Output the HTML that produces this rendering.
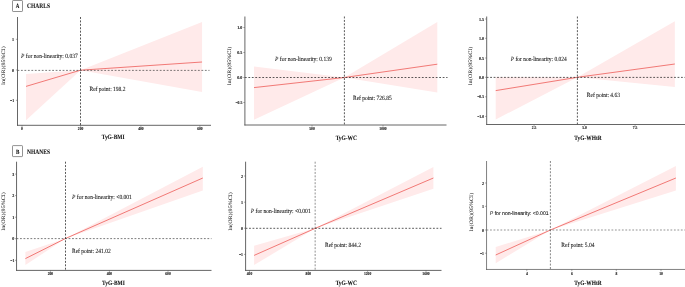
<!DOCTYPE html>
<html><head><meta charset="utf-8"><title>RCS plots</title>
<style>
html,body{margin:0;padding:0;background:#fff;}
body{width:685px;height:287px;overflow:hidden;font-family:"Liberation Serif",serif;}
svg{display:block;will-change:transform;opacity:0.999;}
text{font-family:"Liberation Serif",serif;fill:#111;text-rendering:geometricPrecision;}
.tk{font-weight:bold;fill:#111;stroke:#111;stroke-width:0.1px;}
.at{font-weight:bold;stroke:#111;stroke-width:0.08px;}
.an{fill:#111;stroke:#111;stroke-width:0.07px;}
.yl{fill:#111;stroke:#111;stroke-width:0.04px;}
.hd{font-weight:bold;stroke:#111;stroke-width:0.08px;}
</style></head><body>
<svg width="685" height="287" viewBox="0 0 685 287">
<rect x="0" y="0" width="685" height="287" fill="#ffffff"/>

<rect x="12.5" y="0.5" width="10" height="11" rx="0.6" fill="#fff" stroke="#777" stroke-width="0.8"/>
<text class="hd" transform="translate(17.60,8.35) scale(0.800,1)" font-size="6.3" text-anchor="middle">A</text>
<text class="hd" transform="translate(27.10,8.40) scale(0.800,1)" font-size="6.9" text-anchor="start">CHARLS</text>
<rect x="12.5" y="145.6" width="10" height="11" rx="0.6" fill="#fff" stroke="#777" stroke-width="0.8"/>
<text class="hd" transform="translate(17.60,153.75) scale(0.800,1)" font-size="6.3" text-anchor="middle">B</text>
<text class="hd" transform="translate(27.10,153.50) scale(0.800,1)" font-size="6.9" text-anchor="start">NHANES</text>
<g>
<polygon points="26.00,74.00 80.50,70.20 202.05,22.00 202.05,92.00 80.50,70.20 26.00,120.20" fill="#ffeaea"/>
<polyline points="26.00,86.40 80.50,70.20 202.05,62.00" fill="none" stroke="#ee6461" stroke-width="0.85"/>
<line x1="17.5" y1="70.4" x2="209.5" y2="70.4" stroke="#333" stroke-width="0.65" stroke-dasharray="1.8 1.67"/>
<line x1="80.5" y1="17" x2="80.5" y2="125.3" stroke="#222" stroke-width="0.75" stroke-dasharray="1.95 1.47"/>
<line x1="17.5" y1="17" x2="17.5" y2="125.75" stroke="#555555" stroke-width="0.9"/>
<line x1="17.05" y1="125.3" x2="211" y2="125.3" stroke="#555555" stroke-width="0.9"/>
<line x1="15.9" y1="39.3" x2="17.5" y2="39.3" stroke="#555555" stroke-width="0.5"/>
<text class="tk" transform="translate(14.10,40.95) scale(0.900,1)" font-size="4.5" text-anchor="end">1</text>
<line x1="15.9" y1="70" x2="17.5" y2="70" stroke="#555555" stroke-width="0.5"/>
<text class="tk" transform="translate(14.10,71.65) scale(0.900,1)" font-size="4.5" text-anchor="end">0</text>
<line x1="15.9" y1="100.3" x2="17.5" y2="100.3" stroke="#555555" stroke-width="0.5"/>
<text class="tk" transform="translate(14.10,101.95) scale(0.840,1)" font-size="4.5" text-anchor="end">−1</text>
<line x1="22" y1="125.3" x2="22" y2="127.0" stroke="#555555" stroke-width="0.45"/>
<text class="tk" transform="translate(22.00,130.30) scale(0.820,1)" font-size="4.5" text-anchor="middle">0</text>
<line x1="80.6" y1="125.3" x2="80.6" y2="127.0" stroke="#555555" stroke-width="0.45"/>
<text class="tk" transform="translate(80.60,130.30) scale(0.820,1)" font-size="4.5" text-anchor="middle">200</text>
<line x1="140.9" y1="125.3" x2="140.9" y2="127.0" stroke="#555555" stroke-width="0.45"/>
<text class="tk" transform="translate(140.90,130.30) scale(0.820,1)" font-size="4.5" text-anchor="middle">400</text>
<line x1="199.9" y1="125.3" x2="199.9" y2="127.0" stroke="#555555" stroke-width="0.45"/>
<text class="tk" transform="translate(199.90,130.30) scale(0.820,1)" font-size="4.5" text-anchor="middle">600</text>
<text class="an" transform="translate(21.00,57.50) scale(0.875,1)" font-size="6.35" text-anchor="start"><tspan font-style="italic" stroke="none">P</tspan> for non-linearity: 0.037</text>
<text class="an" transform="translate(89.50,91.10) scale(0.868,1)" font-size="6.35" text-anchor="start">Ref point: 198.2</text>
<text class="at" transform="translate(113.10,139.40) scale(0.825,1)" font-size="6.6" text-anchor="middle">TyG-BMI</text>
<text class="yl" transform="translate(5.3,65.5) scale(0.86,1) rotate(-90)" font-size="6.05" text-anchor="middle">ln(OR)(95%CI)</text>
</g>
<g>
<polygon points="254.00,66.50 344.40,77.50 437.30,22.00 437.30,92.50 344.40,77.50 254.00,119.80" fill="#ffeaea"/>
<polyline points="254.00,87.60 344.40,77.50 437.30,64.20" fill="none" stroke="#ee6461" stroke-width="0.85"/>
<line x1="244.9" y1="77.5" x2="447.5" y2="77.5" stroke="#222" stroke-width="0.75" stroke-dasharray="1.8 1.67"/>
<line x1="344.4" y1="16.5" x2="344.4" y2="125.0" stroke="#222" stroke-width="0.75" stroke-dasharray="1.95 1.47"/>
<line x1="244.9" y1="16.5" x2="244.9" y2="125.45" stroke="#555555" stroke-width="0.9"/>
<line x1="244.45000000000002" y1="125.0" x2="446.5" y2="125.0" stroke="#555555" stroke-width="0.9"/>
<line x1="243.3" y1="27.5" x2="244.9" y2="27.5" stroke="#555555" stroke-width="0.5"/>
<text class="tk" transform="translate(242.30,29.15) scale(0.900,1)" font-size="4.5" text-anchor="end">1.0</text>
<line x1="243.3" y1="52.5" x2="244.9" y2="52.5" stroke="#555555" stroke-width="0.5"/>
<text class="tk" transform="translate(242.30,54.15) scale(0.900,1)" font-size="4.5" text-anchor="end">0.5</text>
<line x1="243.3" y1="77.5" x2="244.9" y2="77.5" stroke="#555555" stroke-width="0.5"/>
<text class="tk" transform="translate(242.30,79.15) scale(0.900,1)" font-size="4.5" text-anchor="end">0.0</text>
<line x1="243.3" y1="102.5" x2="244.9" y2="102.5" stroke="#555555" stroke-width="0.5"/>
<text class="tk" transform="translate(242.30,104.15) scale(0.840,1)" font-size="4.5" text-anchor="end">−0.5</text>
<line x1="312" y1="125.0" x2="312" y2="126.7" stroke="#555555" stroke-width="0.45"/>
<text class="tk" transform="translate(312.00,129.85) scale(0.820,1)" font-size="4.5" text-anchor="middle">500</text>
<line x1="383" y1="125.0" x2="383" y2="126.7" stroke="#555555" stroke-width="0.45"/>
<text class="tk" transform="translate(383.00,129.85) scale(0.820,1)" font-size="4.5" text-anchor="middle">1000</text>
<text class="an" transform="translate(275.00,60.60) scale(0.875,1)" font-size="6.35" text-anchor="start"><tspan font-style="italic" stroke="none">P</tspan> for non-linearity: 0.139</text>
<text class="an" transform="translate(353.00,99.70) scale(0.868,1)" font-size="6.35" text-anchor="start">Ref point: 726.85</text>
<text class="at" transform="translate(346.30,139.80) scale(0.825,1)" font-size="6.6" text-anchor="middle">TyG-WC</text>
<text class="yl" transform="translate(230.9,65.8) scale(0.86,1) rotate(-90)" font-size="6.05" text-anchor="middle">ln(OR)(95%CI)</text>
</g>
<g>
<polygon points="495.70,77.00 577.40,77.30 674.85,21.30 674.85,87.00 577.40,77.30 495.70,119.50" fill="#ffeaea"/>
<polyline points="495.70,90.60 577.40,77.30 674.85,64.00" fill="none" stroke="#ee6461" stroke-width="0.85"/>
<line x1="486.7" y1="77.4" x2="685" y2="77.4" stroke="#222" stroke-width="0.75" stroke-dasharray="1.8 1.67"/>
<line x1="577.4" y1="16.5" x2="577.4" y2="124.5" stroke="#222" stroke-width="0.75" stroke-dasharray="1.95 1.47"/>
<line x1="486.7" y1="16.5" x2="486.7" y2="124.95" stroke="#555555" stroke-width="0.9"/>
<line x1="486.25" y1="124.5" x2="685" y2="124.5" stroke="#555555" stroke-width="0.9"/>
<line x1="485.09999999999997" y1="19" x2="486.7" y2="19" stroke="#555555" stroke-width="0.5"/>
<text class="tk" transform="translate(484.10,20.65) scale(0.900,1)" font-size="4.5" text-anchor="end">1.5</text>
<line x1="485.09999999999997" y1="38.3" x2="486.7" y2="38.3" stroke="#555555" stroke-width="0.5"/>
<text class="tk" transform="translate(484.10,39.95) scale(0.900,1)" font-size="4.5" text-anchor="end">1.0</text>
<line x1="485.09999999999997" y1="58" x2="486.7" y2="58" stroke="#555555" stroke-width="0.5"/>
<text class="tk" transform="translate(484.10,59.65) scale(0.900,1)" font-size="4.5" text-anchor="end">0.5</text>
<line x1="485.09999999999997" y1="77.3" x2="486.7" y2="77.3" stroke="#555555" stroke-width="0.5"/>
<text class="tk" transform="translate(484.10,78.95) scale(0.900,1)" font-size="4.5" text-anchor="end">0.0</text>
<line x1="485.09999999999997" y1="96.8" x2="486.7" y2="96.8" stroke="#555555" stroke-width="0.5"/>
<text class="tk" transform="translate(484.10,98.45) scale(0.840,1)" font-size="4.5" text-anchor="end">−0.5</text>
<line x1="485.09999999999997" y1="116.4" x2="486.7" y2="116.4" stroke="#555555" stroke-width="0.5"/>
<text class="tk" transform="translate(484.10,118.05) scale(0.840,1)" font-size="4.5" text-anchor="end">−1.0</text>
<line x1="534.1" y1="124.5" x2="534.1" y2="126.2" stroke="#555555" stroke-width="0.45"/>
<text class="tk" transform="translate(534.10,129.40) scale(0.820,1)" font-size="4.5" text-anchor="middle">2.5</text>
<line x1="584.6" y1="124.5" x2="584.6" y2="126.2" stroke="#555555" stroke-width="0.45"/>
<text class="tk" transform="translate(584.60,129.40) scale(0.820,1)" font-size="4.5" text-anchor="middle">5.0</text>
<line x1="635.1" y1="124.5" x2="635.1" y2="126.2" stroke="#555555" stroke-width="0.45"/>
<text class="tk" transform="translate(635.10,129.40) scale(0.820,1)" font-size="4.5" text-anchor="middle">7.5</text>
<text class="an" transform="translate(510.80,60.60) scale(0.863,1)" font-size="6.35" text-anchor="start"><tspan font-style="italic" stroke="none">P</tspan> for non-linearity: 0.024</text>
<text class="an" transform="translate(586.80,97.30) scale(0.868,1)" font-size="6.35" text-anchor="start">Ref point: 4.63</text>
<text class="at" transform="translate(588.00,139.80) scale(0.825,1)" font-size="6.6" text-anchor="middle">TyG-WHtR</text>
<text class="yl" transform="translate(471.8,65.8) scale(0.86,1) rotate(-90)" font-size="6.05" text-anchor="middle">ln(OR)(95%CI)</text>
</g>
<g>
<polygon points="25.40,252.00 65.50,238.50 202.80,166.70 202.80,190.50 65.50,238.50 25.40,265.00" fill="#ffeaea"/>
<polyline points="25.40,258.60 65.50,238.50 202.80,178.00" fill="none" stroke="#ee6461" stroke-width="0.85"/>
<line x1="16.55" y1="238.6" x2="211.5" y2="238.6" stroke="#222" stroke-width="0.6" stroke-dasharray="1.8 1.67"/>
<line x1="65.5" y1="161.7" x2="65.5" y2="270.4" stroke="#222" stroke-width="0.75" stroke-dasharray="1.95 1.47"/>
<line x1="16.55" y1="161.7" x2="16.55" y2="270.84999999999997" stroke="#555555" stroke-width="0.9"/>
<line x1="16.1" y1="270.4" x2="211.5" y2="270.4" stroke="#555555" stroke-width="0.9"/>
<line x1="14.950000000000001" y1="174.1" x2="16.55" y2="174.1" stroke="#555555" stroke-width="0.5"/>
<text class="tk" transform="translate(14.35,175.75) scale(0.900,1)" font-size="4.5" text-anchor="end">3</text>
<line x1="14.950000000000001" y1="195.6" x2="16.55" y2="195.6" stroke="#555555" stroke-width="0.5"/>
<text class="tk" transform="translate(14.35,197.25) scale(0.900,1)" font-size="4.5" text-anchor="end">2</text>
<line x1="14.950000000000001" y1="217.2" x2="16.55" y2="217.2" stroke="#555555" stroke-width="0.5"/>
<text class="tk" transform="translate(14.35,218.85) scale(0.900,1)" font-size="4.5" text-anchor="end">1</text>
<line x1="14.950000000000001" y1="238.7" x2="16.55" y2="238.7" stroke="#555555" stroke-width="0.5"/>
<text class="tk" transform="translate(14.35,240.35) scale(0.900,1)" font-size="4.5" text-anchor="end">0</text>
<line x1="14.950000000000001" y1="260.3" x2="16.55" y2="260.3" stroke="#555555" stroke-width="0.5"/>
<text class="tk" transform="translate(14.35,261.95) scale(0.840,1)" font-size="4.5" text-anchor="end">−1</text>
<line x1="50.4" y1="270.4" x2="50.4" y2="272.09999999999997" stroke="#555555" stroke-width="0.45"/>
<text class="tk" transform="translate(50.40,275.00) scale(0.820,1)" font-size="4.5" text-anchor="middle">200</text>
<line x1="109.4" y1="270.4" x2="109.4" y2="272.09999999999997" stroke="#555555" stroke-width="0.45"/>
<text class="tk" transform="translate(109.40,275.00) scale(0.820,1)" font-size="4.5" text-anchor="middle">400</text>
<line x1="168.0" y1="270.4" x2="168.0" y2="272.09999999999997" stroke="#555555" stroke-width="0.45"/>
<text class="tk" transform="translate(168.00,275.00) scale(0.820,1)" font-size="4.5" text-anchor="middle">600</text>
<text class="an" transform="translate(72.00,198.80) scale(0.875,1)" font-size="6.35" text-anchor="start"><tspan font-style="italic" stroke="none">P</tspan> for non-linearity: &lt;0.001</text>
<text class="an" transform="translate(72.00,253.10) scale(0.868,1)" font-size="6.35" text-anchor="start">Ref point: 241.02</text>
<text class="at" transform="translate(113.40,284.70) scale(0.825,1)" font-size="6.6" text-anchor="middle">TyG-BMI</text>
<text class="yl" transform="translate(5.1,211.4) scale(0.86,1) rotate(-90)" font-size="6.05" text-anchor="middle">ln(OR)(95%CI)</text>
</g>
<g>
<polygon points="254.10,245.70 315.30,228.30 433.40,167.00 433.40,188.70 315.30,228.30 254.10,265.00" fill="#ffeaea"/>
<polyline points="254.10,255.40 315.30,228.30 433.40,178.00" fill="none" stroke="#ee6461" stroke-width="0.85"/>
<line x1="245.6" y1="228.3" x2="441.5" y2="228.3" stroke="#222" stroke-width="0.75" stroke-dasharray="1.8 1.67"/>
<line x1="315.15" y1="161.7" x2="315.15" y2="270.4" stroke="#333" stroke-width="0.55" stroke-dasharray="1.95 1.47"/>
<line x1="245.6" y1="161.7" x2="245.6" y2="270.84999999999997" stroke="#555555" stroke-width="0.9"/>
<line x1="245.15" y1="270.4" x2="441.5" y2="270.4" stroke="#555555" stroke-width="0.9"/>
<line x1="244.0" y1="176" x2="245.6" y2="176" stroke="#555555" stroke-width="0.5"/>
<text class="tk" transform="translate(243.00,177.65) scale(0.900,1)" font-size="4.5" text-anchor="end">2</text>
<line x1="244.0" y1="202.2" x2="245.6" y2="202.2" stroke="#555555" stroke-width="0.5"/>
<text class="tk" transform="translate(243.00,203.85) scale(0.900,1)" font-size="4.5" text-anchor="end">1</text>
<line x1="244.0" y1="228.2" x2="245.6" y2="228.2" stroke="#555555" stroke-width="0.5"/>
<text class="tk" transform="translate(243.00,229.85) scale(0.900,1)" font-size="4.5" text-anchor="end">0</text>
<line x1="244.0" y1="254.4" x2="245.6" y2="254.4" stroke="#555555" stroke-width="0.5"/>
<text class="tk" transform="translate(243.00,256.05) scale(0.840,1)" font-size="4.5" text-anchor="end">−1</text>
<line x1="249.5" y1="270.4" x2="249.5" y2="272.09999999999997" stroke="#555555" stroke-width="0.45"/>
<text class="tk" transform="translate(249.50,275.00) scale(0.820,1)" font-size="4.5" text-anchor="middle">400</text>
<line x1="308.3" y1="270.4" x2="308.3" y2="272.09999999999997" stroke="#555555" stroke-width="0.45"/>
<text class="tk" transform="translate(308.30,275.00) scale(0.820,1)" font-size="4.5" text-anchor="middle">800</text>
<line x1="367.6" y1="270.4" x2="367.6" y2="272.09999999999997" stroke="#555555" stroke-width="0.45"/>
<text class="tk" transform="translate(367.60,275.00) scale(0.820,1)" font-size="4.5" text-anchor="middle">1200</text>
<line x1="426" y1="270.4" x2="426" y2="272.09999999999997" stroke="#555555" stroke-width="0.45"/>
<text class="tk" transform="translate(426.00,275.00) scale(0.820,1)" font-size="4.5" text-anchor="middle">1600</text>
<text class="an" transform="translate(250.80,213.00) scale(0.875,1)" font-size="6.35" text-anchor="start"><tspan font-style="italic" stroke="none">P</tspan> for non-linearity: &lt;0.001</text>
<text class="an" transform="translate(325.00,246.90) scale(0.868,1)" font-size="6.35" text-anchor="start">Ref point: 844.2</text>
<text class="at" transform="translate(346.30,284.70) scale(0.825,1)" font-size="6.6" text-anchor="middle">TyG-WC</text>
<text class="yl" transform="translate(231.7,211.4) scale(0.86,1) rotate(-90)" font-size="6.05" text-anchor="middle">ln(OR)(95%CI)</text>
</g>
<g>
<polygon points="495.70,247.00 550.40,230.00 675.90,166.00 675.90,190.50 550.40,230.00 495.70,263.20" fill="#ffeaea"/>
<polyline points="495.70,255.00 550.40,230.00 675.90,178.00" fill="none" stroke="#ee6461" stroke-width="0.85"/>
<line x1="486.55" y1="230.0" x2="685" y2="230.0" stroke="#666" stroke-width="0.7" stroke-dasharray="1.8 1.67"/>
<line x1="550.4" y1="161" x2="550.4" y2="269.45" stroke="#333" stroke-width="0.6" stroke-dasharray="1.95 1.47"/>
<line x1="486.55" y1="161" x2="486.55" y2="269.9" stroke="#555555" stroke-width="0.75"/>
<line x1="486.1" y1="269.45" x2="685" y2="269.45" stroke="#555555" stroke-width="0.75"/>
<line x1="484.95" y1="183" x2="486.55" y2="183" stroke="#555555" stroke-width="0.5"/>
<text class="tk" transform="translate(483.95,184.65) scale(0.900,1)" font-size="4.5" text-anchor="end">2</text>
<line x1="484.95" y1="206.3" x2="486.55" y2="206.3" stroke="#555555" stroke-width="0.5"/>
<text class="tk" transform="translate(483.95,207.95) scale(0.900,1)" font-size="4.5" text-anchor="end">1</text>
<line x1="484.95" y1="230" x2="486.55" y2="230" stroke="#555555" stroke-width="0.5"/>
<text class="tk" transform="translate(483.95,231.65) scale(0.900,1)" font-size="4.5" text-anchor="end">0</text>
<line x1="484.95" y1="253.2" x2="486.55" y2="253.2" stroke="#555555" stroke-width="0.5"/>
<text class="tk" transform="translate(483.95,254.85) scale(0.840,1)" font-size="4.5" text-anchor="end">−1</text>
<line x1="526.8" y1="269.45" x2="526.8" y2="271.15" stroke="#555555" stroke-width="0.45"/>
<text class="tk" transform="translate(526.80,274.65) scale(0.820,1)" font-size="4.5" text-anchor="middle">4</text>
<line x1="571.8" y1="269.45" x2="571.8" y2="271.15" stroke="#555555" stroke-width="0.45"/>
<text class="tk" transform="translate(571.80,274.65) scale(0.820,1)" font-size="4.5" text-anchor="middle">6</text>
<line x1="616.3" y1="269.45" x2="616.3" y2="271.15" stroke="#555555" stroke-width="0.45"/>
<text class="tk" transform="translate(616.30,274.65) scale(0.820,1)" font-size="4.5" text-anchor="middle">8</text>
<line x1="661" y1="269.45" x2="661" y2="271.15" stroke="#555555" stroke-width="0.45"/>
<text class="tk" transform="translate(661.00,274.65) scale(0.820,1)" font-size="4.5" text-anchor="middle">10</text>
<text class="an" transform="translate(489.80,215.30) scale(0.950,1)" font-size="5.4" text-anchor="start" style="font-family:'Liberation Sans',sans-serif;stroke:#111;stroke-width:0.09px;fill:#111"><tspan font-style="italic" stroke="none">P</tspan> for non-linearity: &lt;0.001</text>
<text class="an" transform="translate(561.30,246.70) scale(0.868,1)" font-size="6.35" text-anchor="start">Ref point: 5.04</text>
<text class="at" transform="translate(588.00,284.70) scale(0.825,1)" font-size="6.6" text-anchor="middle">TyG-WHtR</text>
<text class="yl" transform="translate(473.2,212.0) scale(0.86,1) rotate(-90)" font-size="6.05" text-anchor="middle">ln(OR)(95%CI)</text>
</g>
</svg>
</body></html>
